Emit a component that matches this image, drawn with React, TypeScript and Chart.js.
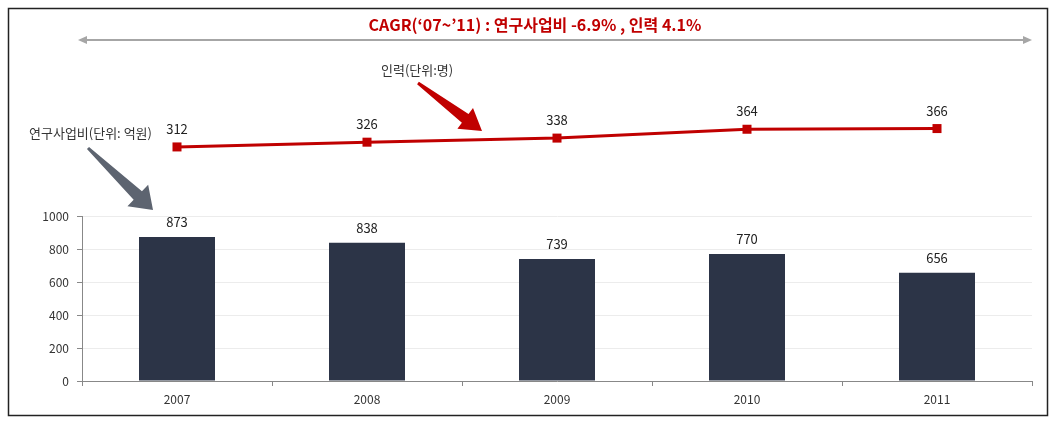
import React, { useEffect, useRef } from 'react';
import { Chart, registerables } from 'chart.js';
Chart.register(...registerables);

const years = ['2007', '2008', '2009', '2010', '2011'];
const budget = [873, 838, 739, 770, 656];
const staff = [312, 326, 338, 364, 366];
const yTicks = [0, 200, 400, 600, 800, 1000];
const titleText = 'CAGR(‘07~’11) : 연구사업비 -6.9% , 인력 4.1%';
const staffLabel = '인력(단위:명)';
const budgetLabel = '연구사업비(단위: 억원)';

const FONT = '"Noto Sans CJK KR", "Noto Sans", sans-serif';

function blockArrow(ctx: CanvasRenderingContext2D, tx: number, ty: number, hx: number, hy: number,
  tailW: number, shaftW: number, headW: number, headL: number, color: string) {
  const dx = hx - tx, dy = hy - ty;
  const len = Math.hypot(dx, dy);
  const ux = dx / len, uy = dy / len;
  const px = -uy, py = ux;
  const bx = hx - ux * headL, by = hy - uy * headL;
  ctx.beginPath();
  ctx.moveTo(tx + px * tailW / 2, ty + py * tailW / 2);
  ctx.lineTo(bx + px * shaftW / 2, by + py * shaftW / 2);
  ctx.lineTo(bx + px * headW / 2, by + py * headW / 2);
  ctx.lineTo(hx, hy);
  ctx.lineTo(bx - px * headW / 2, by - py * headW / 2);
  ctx.lineTo(bx - px * shaftW / 2, by - py * shaftW / 2);
  ctx.lineTo(tx - px * tailW / 2, ty - py * tailW / 2);
  ctx.closePath();
  ctx.fillStyle = color;
  ctx.fill();
}

const decorPlugin = {
  id: 'decor',
  afterDatasetsDraw(chart: any) {
    const ctx: CanvasRenderingContext2D = chart.ctx;
    ctx.save();
    // line markers (positions from the line dataset's elements)
    ctx.fillStyle = '#c00000';
    chart.getDatasetMeta(1).data.forEach((el: any) => {
      ctx.fillRect(el.x - 4.5, el.y - 4.5, 9, 9);
    });

    // value labels
    ctx.font = `13px ${FONT}`;
    ctx.fillStyle = '#222';
    ctx.textAlign = 'center';
    ctx.textBaseline = 'middle';
    chart.getDatasetMeta(0).data.forEach((el: any, i: number) => {
      ctx.fillText(String(budget[i]), el.x, el.y - 15);
    });
    chart.getDatasetMeta(1).data.forEach((el: any, i: number) => {
      ctx.fillText(String(staff[i]), el.x, el.y - 18);
    });

    // title
    ctx.font = `bold 16px ${FONT}`;
    ctx.fillStyle = '#c00000';
    ctx.fillText(titleText, 535, 25);

    // double arrow line
    ctx.strokeStyle = '#a6a6a6';
    ctx.lineWidth = 2;
    ctx.beginPath();
    ctx.moveTo(84, 40);
    ctx.lineTo(1026, 40);
    ctx.stroke();
    ctx.fillStyle = '#a6a6a6';
    ctx.beginPath();
    ctx.moveTo(78, 40); ctx.lineTo(87, 36); ctx.lineTo(87, 44); ctx.closePath(); ctx.fill();
    ctx.beginPath();
    ctx.moveTo(1032, 40); ctx.lineTo(1023, 36); ctx.lineTo(1023, 44); ctx.closePath(); ctx.fill();

    // annotation texts
    ctx.font = `13px ${FONT}`;
    ctx.fillStyle = '#333';
    ctx.textAlign = 'left';
    ctx.fillText(staffLabel, 381, 70);
    ctx.fillText(budgetLabel, 29, 133);

    // block arrows
    blockArrow(ctx, 418, 83, 482, 131, 3, 11, 26, 21, '#c00000');
    blockArrow(ctx, 88, 148, 153, 210, 3, 12, 30, 21, '#5d6470');

    // outer border
    ctx.strokeStyle = '#222';
    ctx.lineWidth = 1.5;
    ctx.strokeRect(8.5, 8.5, 1039, 407);
    ctx.restore();
  },
};

export default function App() {
  const ref = useRef<HTMLCanvasElement>(null);
  useEffect(() => {
    if (!ref.current) return;
    const chart = new Chart(ref.current, {
      type: 'bar',
      data: {
        labels: years,
        datasets: [
          {
            type: 'bar',
            data: budget,
            backgroundColor: '#2c3447',
            categoryPercentage: 1,
            barPercentage: 0.4,
            yAxisID: 'y',
            order: 2,
          } as any,
          {
            type: 'line',
            data: staff,
            yAxisID: 'y1',
            borderColor: '#c00000',
            backgroundColor: '#c00000',
            borderWidth: 3,
            pointRadius: 0,
            clip: false,
            tension: 0,
            order: 1,
          } as any,
        ],
      },
      options: {
        responsive: false,
        animation: false,
        layout: { padding: { top: 216, right: 23, left: 0, bottom: 0 } },
        plugins: {
          legend: { display: false },
          tooltip: { enabled: false },
          title: { display: false },
        },
        scales: {
          x: {
            offset: true,
            grid: { offset: true, drawOnChartArea: false, drawTicks: true, tickLength: 5, tickColor: '#888' },
            border: { color: '#888' },
            ticks: { font: { size: 12, family: FONT }, color: '#333', padding: 6 },
            afterFit: (s: any) => { s.height = 42; },
          },
          y: {
            min: 0,
            max: 1000,
            afterBuildTicks: (s: any) => { s.ticks = yTicks.map((v) => ({ value: v })); },
            ticks: { font: { size: 12, family: FONT }, color: '#333', padding: 8, callback: (v: any) => String(v) },
            grid: { color: '#ececec', tickLength: 5, tickColor: '#888' },
            border: { color: '#888' },
            afterFit: (s: any) => { s.width = 82; },
          },
          y1: { display: false, min: -376, max: 109 },
        },
      } as any,
      plugins: [decorPlugin],
    });
    return () => chart.destroy();
  }, []);
  return (
    <div style={{ position: 'absolute', left: 0, top: 0, width: 1055, height: 423, background: '#fff' }}>
      <canvas ref={ref} width={1055} height={423} />
    </div>
  );
}
